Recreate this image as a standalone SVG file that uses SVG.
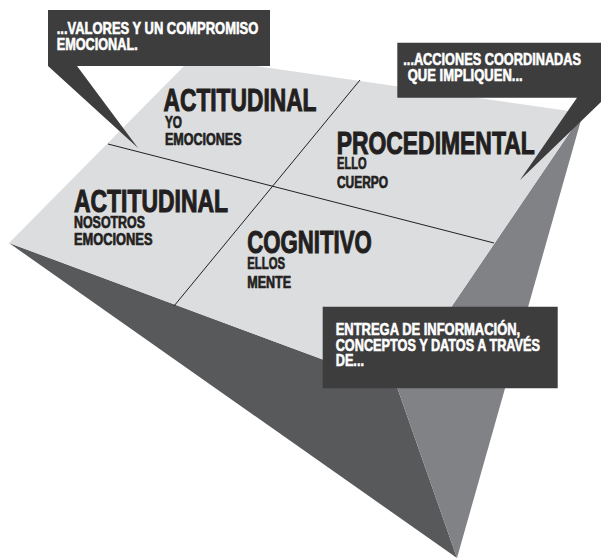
<svg xmlns="http://www.w3.org/2000/svg" width="601" height="559" viewBox="0 0 601 559">
<style>
.face-light{fill:#dcdddf}
.face-dark{fill:#58595b}
.face-mid{fill:#808285}
.divider{stroke:#231f20;stroke-width:1;fill:none}
.callout{fill:#3d3d3e}
.t{font-family:"Liberation Sans",Arial,sans-serif;font-weight:bold}
.title{font-size:31.5px;fill:#231f20;stroke:#231f20;stroke-width:1.1}
.sub{font-size:16px;fill:#231f20;stroke:#231f20;stroke-width:0.7}
.ct{font-size:16.5px;fill:#ffffff;stroke:#ffffff;stroke-width:0.6}
</style>
<rect width="601" height="559" fill="#ffffff"/>
<g id="pyramid">
  <polygon class="face-dark" points="9,243 397,387 457,558"/>
  <polygon class="face-mid" points="583,113 397,387 457,558"/>
  <polygon class="face-light" points="193,57 583,113 397,387 9,243"/>
</g>
<g id="dividers">
  <line class="divider" x1="108" y1="144" x2="494" y2="243"/>
  <line class="divider" x1="360" y1="80" x2="174" y2="306"/>
</g>
<g id="q-actitudinal-yo">
  <text class="t title" x="163.5" y="111" textLength="153" lengthAdjust="spacingAndGlyphs">ACTITUDINAL</text>
  <text class="t sub" x="165" y="127.5" textLength="17" lengthAdjust="spacingAndGlyphs">YO</text>
  <text class="t sub" x="165" y="145" textLength="76.5" lengthAdjust="spacingAndGlyphs">EMOCIONES</text>
</g>
<g id="q-procedimental">
  <text class="t title" x="336.7" y="154" textLength="198" lengthAdjust="spacingAndGlyphs">PROCEDIMENTAL</text>
  <text class="t sub" x="337" y="169" textLength="29.5" lengthAdjust="spacingAndGlyphs">ELLO</text>
  <text class="t sub" x="337" y="188.3" textLength="51" lengthAdjust="spacingAndGlyphs">CUERPO</text>
</g>
<g id="q-actitudinal-nosotros">
  <text class="t title" x="74" y="212" textLength="154" lengthAdjust="spacingAndGlyphs">ACTITUDINAL</text>
  <text class="t sub" x="74" y="228.3" textLength="71" lengthAdjust="spacingAndGlyphs">NOSOTROS</text>
  <text class="t sub" x="74" y="245" textLength="78.5" lengthAdjust="spacingAndGlyphs">EMOCIONES</text>
</g>
<g id="q-cognitivo">
  <text class="t title" x="247.3" y="252.5" textLength="124.4" lengthAdjust="spacingAndGlyphs">COGNITIVO</text>
  <text class="t sub" x="247.3" y="269.3" textLength="37.7" lengthAdjust="spacingAndGlyphs">ELLOS</text>
  <text class="t sub" x="247.3" y="288.3" textLength="43.7" lengthAdjust="spacingAndGlyphs">MENTE</text>
</g>
<g id="callout-valores">
  <polygon class="callout" points="48,10 270,10 270,66 77,66 138,148 48,66"/>
  <text class="t ct" x="56.7" y="34.3" textLength="201.6" lengthAdjust="spacingAndGlyphs">...VALORES Y UN COMPROMISO</text>
  <text class="t ct" x="56.7" y="50" textLength="81" lengthAdjust="spacingAndGlyphs">EMOCIONAL.</text>
</g>
<g id="callout-acciones">
  <polygon class="callout" points="397.3,42.7 601,42.7 601,102 520,180 577,97.7 397.3,97.7"/>
  <text class="t ct" x="403.3" y="65" textLength="177.7" lengthAdjust="spacingAndGlyphs">...ACCIONES COORDINADAS</text>
  <text class="t ct" x="407.7" y="80.7" textLength="115" lengthAdjust="spacingAndGlyphs">QUE IMPLIQUEN...</text>
</g>
<g id="callout-entrega">
  <polygon class="callout" points="495,242 517,306.7 557.7,306.7 557.7,388.3 322.7,388.3 322.7,306.7 517,306.7"/>
  <text class="t ct" x="335.7" y="335" textLength="184.5" lengthAdjust="spacingAndGlyphs">ENTREGA DE INFORMACIÓN,</text>
  <text class="t ct" x="335.7" y="350.5" textLength="204.3" lengthAdjust="spacingAndGlyphs">CONCEPTOS Y DATOS A TRAVÉS</text>
  <text class="t ct" x="335.7" y="366" textLength="28.3" lengthAdjust="spacingAndGlyphs">DE...</text>
</g>
</svg>
